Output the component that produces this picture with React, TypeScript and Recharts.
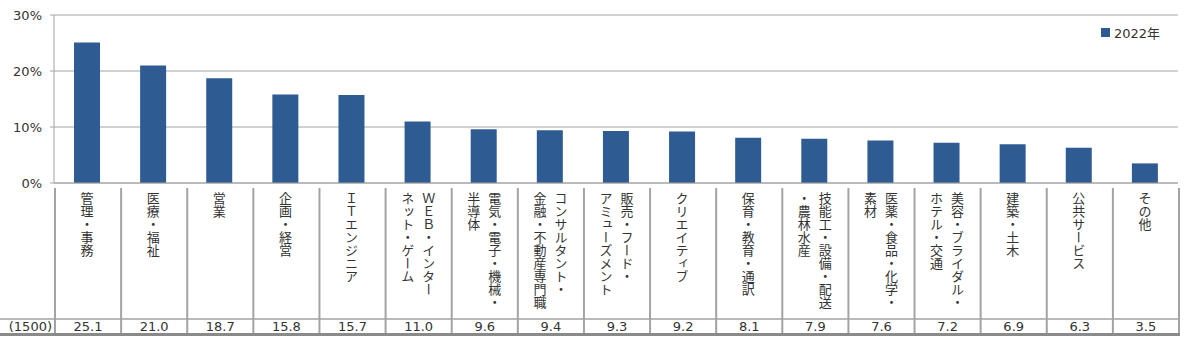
import React from "react";
import { BarChart, Bar, XAxis, YAxis, CartesianGrid } from "recharts";

if (typeof document !== "undefined") document.body.style.margin = "0";

// categories: "\n" splits the vertical label into columns (right column first)
const categories = [
  "管理・事務",
  "医療・福祉",
  "営業",
  "企画・経営",
  "ＩＴエンジニア",
  "ＷＥＢ・インター\nネット・ゲーム",
  "電気・電子・機械・\n半導体",
  "コンサルタント・\n金融・不動産専門職",
  "販売・フード・\nアミューズメント",
  "クリエイティブ",
  "保育・教育・通訳",
  "技能工・設備・配送\n・農林水産",
  "医薬・食品・化学・\n素材",
  "美容・ブライダル・\nホテル・交通",
  "建築・土木",
  "公共サービス",
  "その他",
];
const shares2022 = [25.1, 21.0, 18.7, 15.8, 15.7, 11.0, 9.6, 9.4, 9.3, 9.2, 8.1, 7.9, 7.6, 7.2, 6.9, 6.3, 3.5];
const yTicks = [0, 10, 20, 30];
const seriesName = "2022年";
const sampleSize = "(1500)";

const data = categories.map((name, i) => ({ name, share: shares2022[i] }));

const W = 1200;
const H = 339;
const M = { top: 15, right: 22, left: 0, bottom: 0 };
const Y_AXIS_W = 54;
const X_AXIS_H = 156;
const PLOT_LEFT = M.left + Y_AXIS_W;
const PLOT_RIGHT = W - M.right;
const AXIS_Y = H - M.bottom - X_AXIS_H;
const COL_W = (PLOT_RIGHT - PLOT_LEFT) / categories.length;

const BAR = "#2f5b93";
const GRID = "#a3a3a3";
const TEXT = "#333";
const NUM_FONT = "'DejaVu Sans', Verdana, sans-serif";
const JP_FONT = "'Noto Sans CJK JP', sans-serif";

const ROW_LINE_Y = 319;
const BOTTOM_Y = 333;

const CategoryTick = ({ x, payload }: any) => {
  const i = payload.index;
  const lines: string[] = String(payload.value).split("\n");
  const left = x - COL_W / 2;
  const offsets = lines.length === 1 ? [0] : [11, -10];
  return (
    <g>
      {i === 0 && (
        <g>
          <line x1={0} x2={PLOT_RIGHT + 2} y1={ROW_LINE_Y} y2={ROW_LINE_Y} stroke={GRID} strokeWidth={1.5} />
          <rect x={0} y={BOTTOM_Y} width={PLOT_RIGHT + 2} height={3} fill="#8a8a8a" />
          <text x={52} y={331} textAnchor="end" fontSize={13} fontFamily={NUM_FONT} fill={TEXT}>
            {sampleSize}
          </text>
        </g>
      )}
      <line x1={left + 1} x2={left + 1} y1={AXIS_Y + 5} y2={BOTTOM_Y} stroke={GRID} strokeWidth={2} />
      {i === categories.length - 1 && (
        <line x1={left + COL_W + 1} x2={left + COL_W + 1} y1={AXIS_Y + 5} y2={BOTTOM_Y} stroke={GRID} strokeWidth={2} />
      )}
      {lines.map((ln, k) => (
        <text
          key={k}
          x={x + offsets[k]}
          y={AXIS_Y + 9}
          fontSize={13}
          fontFamily={JP_FONT}
          fill={TEXT}
          style={{ writingMode: "vertical-rl" as any }}
        >
          {ln}
        </text>
      ))}
      <text x={x + 1} y={331} textAnchor="middle" fontSize={13} fontFamily={NUM_FONT} fill={TEXT}>
        {shares2022[i].toFixed(1)}
      </text>
    </g>
  );
};

export default function App() {
  return (
    <div style={{ position: "relative", width: W, height: H, background: "#fff" }}>
      <BarChart width={W} height={H} data={data} margin={M} barSize={26}>
        <CartesianGrid horizontal vertical={false} stroke={GRID} />
        <XAxis
          dataKey="name"
          height={X_AXIS_H}
          interval={0}
          tickLine={false}
          axisLine={{ stroke: GRID }}
          tick={<CategoryTick />}
        />
        <YAxis
          width={Y_AXIS_W}
          domain={[0, 30]}
          ticks={yTicks}
          tickFormatter={v => `${v}%`}
          tickSize={4}
          tickMargin={8}
          tickLine={{ stroke: GRID }}
          axisLine={{ stroke: GRID }}
          tick={{ fill: TEXT, fontSize: 13, fontFamily: NUM_FONT }}
        />
        <Bar dataKey="share" name={seriesName} fill={BAR} isAnimationActive={false} />
      </BarChart>
      <div style={{
        position: "absolute", top: 23, left: 1101, display: "flex", alignItems: "center",
        fontFamily: `${NUM_FONT}, ${JP_FONT}`, fontSize: 13, color: TEXT
      }}>
        <span style={{ display: "inline-block", width: 9, height: 9, background: BAR, marginRight: 4 }} />
        {seriesName}
      </div>
    </div>
  );
}
